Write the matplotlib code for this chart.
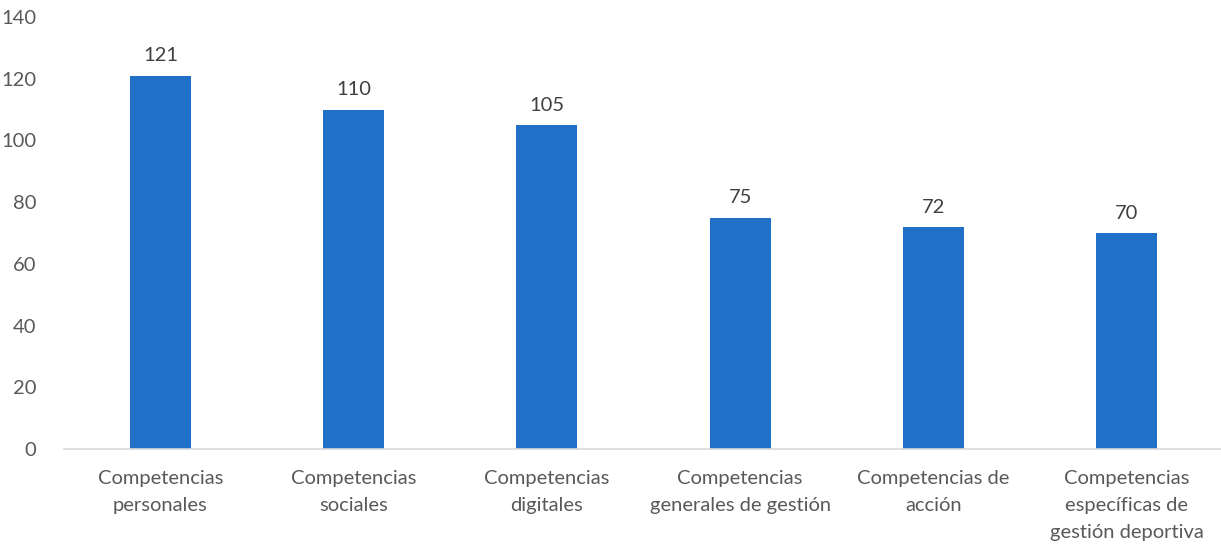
import matplotlib
matplotlib.use("Agg")
import matplotlib.pyplot as plt

categories = [
    "Competencias\npersonales",
    "Competencias\nsociales",
    "Competencias\ndigitales",
    "Competencias\ngenerales de gestión",
    "Competencias de\nacción",
    "Competencias\nespecíficas de\ngestión deportiva",
]
values = [121, 110, 105, 75, 72, 70]
yticks = [0, 20, 40, 60, 80, 100, 120, 140]

plt.rcParams["font.family"] = ["Lato", "DejaVu Sans"]
text_color = "#595959"
bar_color = "#1F70C6"

fig = plt.figure(figsize=(12.21, 5.45), dpi=100)
ax = fig.add_axes([0.0523, 0.176, 0.9494, 0.793])

x = range(len(categories))
bars = ax.bar(x, values, width=0.316, color=bar_color, zorder=2)
for xi, v in zip(x, values):
    ax.annotate(str(v), (xi, v), xytext=(0, 8), textcoords="offset points",
                ha="center", va="bottom", fontsize=14.5, color="#404040")

ax.set_xlim(-0.5, len(categories) - 0.5)
ax.set_ylim(0, 140)
ax.set_yticks(yticks)
ax.set_yticklabels([str(t) for t in yticks], fontsize=14.5, color=text_color)
ax.set_xticks(list(x))
ax.set_xticklabels(categories, fontsize=14.5, color=text_color, linespacing=1.7)

for s in ["top", "right", "left"]:
    ax.spines[s].set_visible(False)
ax.spines["bottom"].set_color("#D9D9D9")
ax.spines["bottom"].set_linewidth(1.2)
ax.tick_params(axis="both", length=0)
ax.tick_params(axis="y", pad=20)
ax.tick_params(axis="x", pad=15)

fig.savefig("out.png", dpi=100)
